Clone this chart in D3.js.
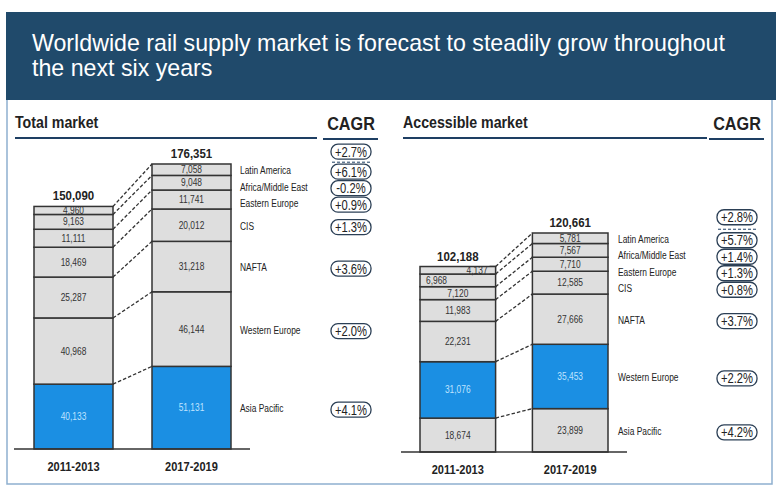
<!DOCTYPE html>
<html><head><meta charset="utf-8">
<script src="https://cdn.jsdelivr.net/npm/d3@7"></script>
<style>
html,body{margin:0;padding:0;background:#fff;}
svg{display:block;}
text{font-family:"Liberation Sans",Arial,sans-serif;}
</style></head>
<body>
<svg id="chart" width="778" height="496"></svg>
<script>
// ---- DATA ----
const regions = ["Asia Pacific","Western Europe","NAFTA","CIS","Eastern Europe","Africa/Middle East","Latin America"];
const periods = ["2011-2013","2017-2019"];
const totalMarket2011 = [40133, 40968, 25287, 18469, 11111, 9163, 4960];
const totalMarket2017 = [51131, 46144, 31218, 20012, 11741, 9048, 7058];
const totalMarketTotals = [150090, 176351];
const totalMarketCAGR = ["+4.1%","+2.0%","+3.6%","+1.3%","+0.9%","-0.2%","+6.1%"];
const totalMarketCAGRAll = "+2.7%";
const accessible2011 = [18674, 31076, 22231, 11983, 7120, 6968, 4137];
const accessible2017 = [23899, 35453, 27666, 12585, 7710, 7567, 5781];
const accessibleTotals = [102188, 120661];
const accessibleCAGR = ["+4.2%","+2.2%","+3.7%","+0.8%","+1.3%","+1.4%","+5.7%"];
const accessibleCAGRAll = "+2.8%";
const totalBlue = "Asia Pacific";
const accessibleBlue = "Western Europe";
const title = ["Worldwide rail supply market is forecast to steadily grow throughout","the next six years"];

// ---- DRAW ----
const svg = d3.select("#chart");
const fmt = d3.format(",");
const GRAY = "#dedede", BLUE = "#1b8fe3", LINE = "#333", NAVY = "#1e3f63";

function condense(sel, f){
  const n = sel.node(); const w = n.getComputedTextLength();
  sel.attr("textLength", w*f).attr("lengthAdjust","spacingAndGlyphs");
  return sel;
}

// header
svg.append("rect").attr("x",6).attr("y",12).attr("width",770).attr("height",88).attr("fill","#204a6b");
title.forEach((t,i)=>svg.append("text").attr("x",32).attr("y",51+i*25).attr("fill","#fff")
  .attr("font-size",23.2).text(t));

// panel border
svg.append("path").attr("d","M7,100 V484 H772 V100").attr("fill","none").attr("stroke","#8fb0cf").attr("stroke-width",1.5);

function panel(cfg){
  const g = svg.append("g");
  condense(g.append("text").attr("x",cfg.hx).attr("y",128).attr("font-size",16.5).attr("font-weight","bold").attr("fill","#222").text(cfg.heading),0.86);
  g.append("line").attr("x1",cfg.hx).attr("x2",cfg.hx2).attr("y1",138).attr("y2",138).attr("stroke",NAVY).attr("stroke-width",2);
  condense(g.append("text").attr("x",cfg.cx).attr("y",130).attr("text-anchor","middle").attr("font-size",18).attr("font-weight","bold").attr("fill","#222").text("CAGR"),0.9);
  g.append("line").attr("x1",cfg.cx-28).attr("x2",cfg.cx+27).attr("y1",139).attr("y2",139).attr("stroke",NAVY).attr("stroke-width",2);

  const y = d3.scaleLinear().domain([0, d3.max(cfg.totals)]).range([cfg.base, cfg.top]);
  const x = d3.scaleBand().domain(periods).range(cfg.xr).paddingInner(cfg.pi).paddingOuter(0);
  const stacks = [cfg.a, cfg.b].map(arr=>{
    let c=0; return arr.map((v,i)=>{const s={i,v,y0:c,y1:c+v}; c+=v; return s;});
  });

  const bw = x.bandwidth();
  regions.forEach((r,i)=>{
    g.append("line").attr("x1",x(periods[0])+bw).attr("x2",x(periods[1]))
      .attr("y1",y(stacks[0][i].y1)).attr("y2",y(stacks[1][i].y1))
      .attr("stroke",LINE).attr("stroke-width",1.3).attr("stroke-dasharray","3.5,2");
  });

  stacks.forEach((st,pi)=>{
    const bx = x(periods[pi]);
    g.selectAll(null).data(st).enter().append("rect")
      .attr("x",bx).attr("width",bw)
      .attr("y",d=>y(d.y1)).attr("height",d=>y(d.y0)-y(d.y1))
      .attr("fill",d=>regions[d.i]===cfg.blue?BLUE:GRAY)
      .attr("stroke",LINE).attr("stroke-width",1.5);
    st.forEach(d=>{
      const mid=(y(d.y0)+y(d.y1))/2;
      let tx=bx+bw/2, anchor="middle";
      if(cfg.special && pi===0 && d.i===6){ tx=bx+bw-8; anchor="end"; }
      if(cfg.special && pi===0 && d.i===5){ tx=bx+6; anchor="start"; }
      const isBlue = regions[d.i]===cfg.blue;
      condense(g.append("text").attr("x",tx).attr("y",mid+3.5).attr("text-anchor",anchor)
        .attr("font-size",10.5).attr("fill",isBlue?"#bfe3ff":"#333").text(fmt(d.v)),0.8);
      if(cfg.special && pi===0 && d.i===6){
        const yy=(y(d.y0)+y(d.y1))/2;
        g.append("path").attr("d",`M${bx+bw-6},${yy-4} h6 v8 h-6`).attr("fill","none").attr("stroke",LINE).attr("stroke-width",1);
      }
    });
    condense(g.append("text").attr("x",bx+bw/2).attr("y",y(cfg.totals[pi])-6).attr("text-anchor","middle")
      .attr("font-size",13.5).attr("font-weight","bold").attr("fill","#222").text(fmt(cfg.totals[pi])),0.85);
    condense(g.append("text").attr("x",bx+bw/2).attr("y",cfg.base+22).attr("text-anchor","middle")
      .attr("font-size",13).attr("font-weight","bold").attr("fill","#222").text(periods[pi]),0.85);
  });

  g.append("line").attr("x1",cfg.bl[0]).attr("x2",cfg.bl[1]).attr("y1",cfg.base).attr("y2",cfg.base).attr("stroke",LINE).attr("stroke-width",1.5);

  const mids = stacks[1].map(d=>(y(d.y0)+y(d.y1))/2);
  const ys = mids.slice();
  let prev=-Infinity;
  d3.range(ys.length).reverse().forEach(i=>{ ys[i]=Math.max(mids[i]+1, prev+16.5); prev=ys[i]; });

  regions.forEach((r,i)=>{
    condense(g.append("text").attr("x",cfg.lx).attr("y",ys[i]+3.5).attr("font-size",10.5).attr("fill","#222").text(r),0.8);
    pill(g,cfg.cx,ys[i]+1,cfg.cagr[i]);
  });
  const ty = ys[6]+1-cfg.tg;
  pill(g,cfg.cx,ty,cfg.all);
  g.append("line").attr("x1",cfg.cx-19).attr("x2",cfg.cx+19).attr("y1",ty+cfg.tg/2+0.5).attr("y2",ty+cfg.tg/2+0.5)
    .attr("stroke",NAVY).attr("stroke-width",1).attr("stroke-dasharray","3,2");
}

function pill(g,cx,cy,txt){
  g.append("rect").attr("x",cx-20).attr("y",cy-7.5).attr("width",40).attr("height",15).attr("rx",7).attr("ry",7)
    .attr("fill","#fff").attr("stroke","#2b3f55").attr("stroke-width",1.3);
  condense(g.append("text").attr("x",cx).attr("y",cy+5).attr("text-anchor","middle").attr("font-size",14).attr("fill","#222").text(txt),0.8);
}

panel({heading:"Total market",hx:15,hx2:317,cx:351,xr:[34,231],pi:39/118,base:449,top:164,
  a:totalMarket2011,b:totalMarket2017,totals:totalMarketTotals,cagr:totalMarketCAGR,all:totalMarketCAGRAll,
  blue:totalBlue,lx:240,bl:[14,250],special:false,tg:20});
panel({heading:"Accessible market",hx:403,hx2:707,cx:737,xr:[420,608],pi:37/113,base:452,top:233,
  a:accessible2011,b:accessible2017,totals:accessibleTotals,cagr:accessibleCAGR,all:accessibleCAGRAll,
  blue:accessibleBlue,lx:618,bl:[401,627],special:true,tg:23});
</script>
</body></html>
